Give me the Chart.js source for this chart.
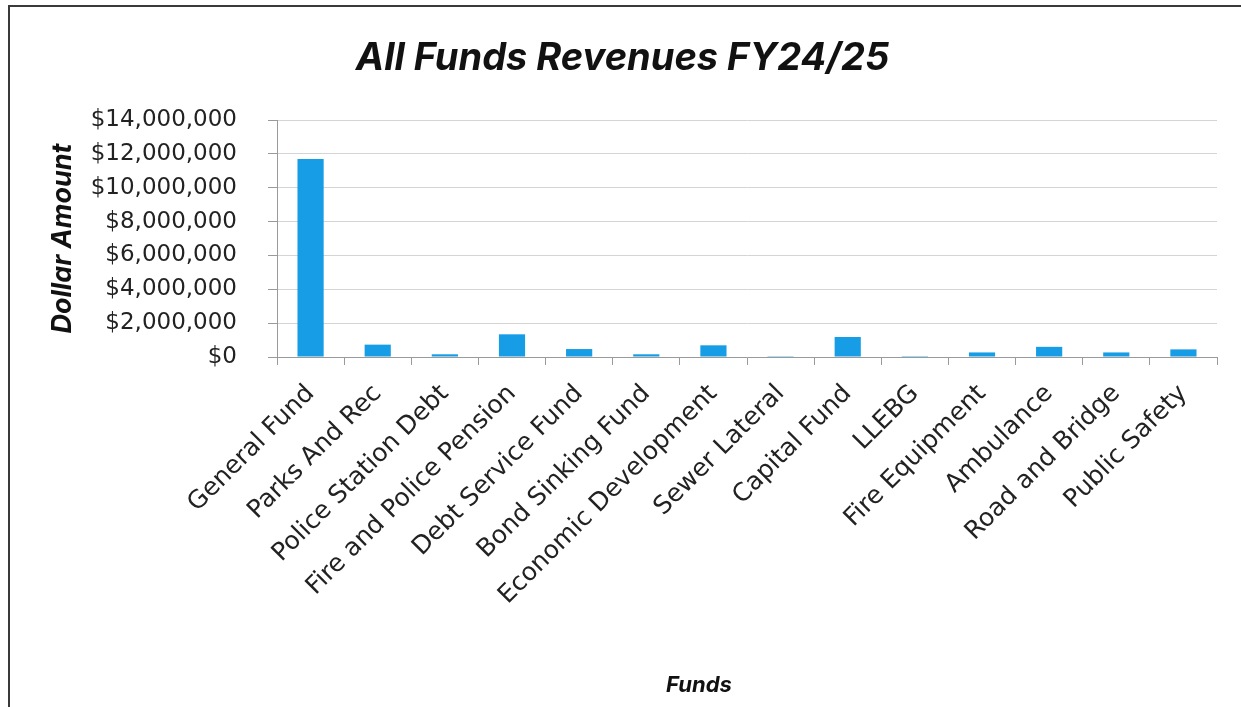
<!DOCTYPE html>
<html><head><meta charset="utf-8">
<script src="https://cdn.jsdelivr.net/npm/chart.js@4.4.1/dist/chart.umd.min.js"></script>
<style>
html,body{margin:0;padding:0;background:#fff;}
#wrap{position:relative;width:1241px;height:707px;overflow:hidden;}
#frame{position:absolute;left:8px;top:5px;right:-4px;bottom:-4px;border-left:2px solid #3a3a3a;border-top:2px solid #3a3a3a;pointer-events:none;}
canvas{position:absolute;left:0;top:0;}
</style></head><body>
<div id="wrap"><canvas id="c" width="1241" height="707"></canvas><div id="frame"></div></div>
<script>
const categories = ["General Fund","Parks And Rec","Police Station Debt","Fire and Police Pension","Debt Service Fund","Bond Sinking Fund","Economic Development","Sewer Lateral","Capital Fund","LLEBG","Fire Equipment","Ambulance","Road and Bridge","Public Safety"];
const revenues = [11700000, 730000, 160000, 1340000, 470000, 160000, 690000, 50000, 1180000, 5000, 270000, 600000, 270000, 450000];
const yTickValues = [0, 2000000, 4000000, 6000000, 8000000, 10000000, 12000000, 14000000];
const chartTitle = "All Funds Revenues FY24/25";
const yAxisTitle = "Dollar Amount";
const xAxisTitle = "Funds";

const TITLE_FONT = "Inter, 'DejaVu Sans', sans-serif";
const TICK_FONT = "'DejaVu Sans', sans-serif";

const xTitlePlugin = {
  id: 'xTitle',
  afterDraw(chart) {
    const ctx = chart.ctx;
    ctx.save();
    ctx.font = "italic bold 22px " + TITLE_FONT;
    ctx.fillStyle = '#111';
    ctx.textAlign = 'center';
    ctx.textBaseline = 'middle';
    ctx.fillText(xAxisTitle, 699, 685);
    ctx.restore();
  }
};

new Chart(document.getElementById('c'), {
  type: 'bar',
  data: {
    labels: categories,
    datasets: [{
      data: revenues,
      backgroundColor: '#169de6',
      borderWidth: 0,
      barPercentage: 0.39,
      categoryPercentage: 1.0
    }]
  },
  options: {
    responsive: false,
    devicePixelRatio: 1,
    animation: false,
    layout: { padding: { left: 28, right: 24, top: 0, bottom: 0 } },
    plugins: {
      legend: { display: false },
      tooltip: { enabled: false },
      title: {
        display: true,
        text: chartTitle,
        color: '#111',
        font: { family: TITLE_FONT, size: 38, weight: 'bold', style: 'italic' },
        padding: { top: 36, bottom: 38.4 }
      }
    },
    scales: {
      y: {
        min: 0, max: 14000000,
        afterBuildTicks(scale) { scale.ticks = yTickValues.map(v => ({ value: v })); },
        afterFit(scale) { scale.width = 249; },
        border: { display: true, color: '#9a9a9a', width: 1 },
        grid: { color: '#d4d4d4', lineWidth: 1, tickLength: 9, tickColor: '#9a9a9a' },
        ticks: {
          padding: 31,
          color: '#222',
          font: { family: TICK_FONT, size: 23 },
          callback: v => '$' + Number(v).toLocaleString('en-US')
        },
        title: {
          display: true,
          text: yAxisTitle,
          color: '#111',
          font: { family: TITLE_FONT, size: 27, weight: 'bold', style: 'italic' },
          padding: { top: 19, bottom: 0 }
        }
      },
      x: {
        afterFit(scale) { scale.height = 350; },
        border: { display: true, color: '#9a9a9a', width: 1 },
        grid: { offset: true, drawOnChartArea: false, drawTicks: true, tickLength: 8, tickColor: '#9a9a9a' },
        ticks: {
          maxRotation: 45, minRotation: 45,
          padding: 14,
          color: '#222',
          autoSkip: false,
          font: { family: TICK_FONT, size: 25 }
        }
      }
    }
  },
  plugins: [xTitlePlugin]
});
</script>
</body></html>
